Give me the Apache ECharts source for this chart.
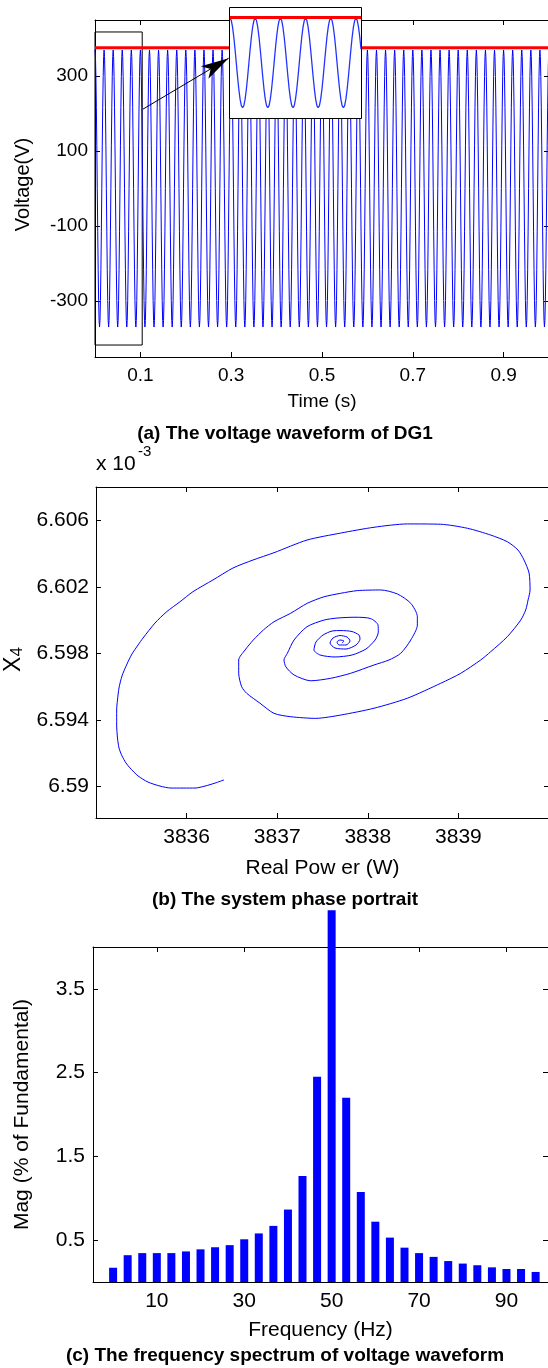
<!DOCTYPE html>
<html>
<head>
<meta charset="utf-8">
<title>DG1 voltage, phase portrait and spectrum</title>
<script src="https://cdn.jsdelivr.net/npm/echarts@6/dist/echarts.min.js"></script>
<style>
  html, body { margin: 0; padding: 0; background: #fff; }
  #chart { width: 548px; height: 1368px; }
</style>
</head>
<body>
<div id="chart"></div>
<script>
// ---------- (a) DG1 terminal voltage ----------
// one 20 ms period of samples (V), repeated over the 1 s record
const cyclePeriod = 0.02;
const cycleCount = 50;
const cycleVolts = [370, 352, 299, 217, 114, 0, -114, -217, -299, -352,
                    -370, -352, -299, -217, -114, 0, 114, 217, 299, 352];
const peakLevel = 376;                       // red reference level (V)
const timeTicks = [0.1, 0.3, 0.5, 0.7, 0.9];
const voltTicks = [-300, -100, 100, 300];
const zoomWindowT = [0, 0.104];              // framed window, s
const zoomWindowV = [-418, 418];             // framed window, V
const arrowFrom = [0.1057, 212];
const arrowTo = [0.2945, 348];

// ---------- (b) phase portrait: real power (W) vs x4 (x 10^-3) ----------
const powerW = [3836.413, 3836.314, 3836.203, 3836.093, 3835.828, 3835.706, 3835.574, 3835.464, 3835.375, 3835.331,
  3835.287, 3835.254, 3835.237, 3835.228, 3835.228, 3835.237, 3835.254, 3835.287, 3835.342, 3835.397,
  3835.464, 3835.519, 3835.651, 3835.780, 3835.927, 3836.071, 3836.291, 3836.512, 3836.733, 3836.965, 3837.329,
  3837.701, 3838.069, 3838.436, 3838.805, 3839.099, 3839.357, 3839.540, 3839.658, 3839.724, 3839.780,
  3839.791, 3839.769, 3839.743, 3839.688, 3839.540, 3839.357, 3839.246, 3839.026, 3838.805, 3838.436,
  3838.069, 3837.701, 3837.425, 3837.149, 3836.965, 3836.810, 3836.663, 3836.608, 3836.575, 3836.575,
  3836.645, 3836.736, 3836.847, 3836.965, 3837.149, 3837.332, 3837.517, 3837.701, 3837.884, 3838.143,
  3838.326, 3838.474, 3838.547, 3838.547, 3838.474, 3838.363, 3838.234, 3838.069, 3837.811, 3837.591,
  3837.370, 3837.186, 3837.097, 3837.075, 3837.112, 3837.186, 3837.329, 3837.517, 3837.660, 3837.859,
  3838.032, 3838.113, 3838.116, 3838.080, 3837.980, 3837.826, 3837.638, 3837.473, 3837.406, 3837.428,
  3837.506, 3837.605, 3837.704, 3837.826, 3837.903, 3837.914, 3837.870, 3837.760, 3837.638, 3837.583,
  3837.616, 3837.693, 3837.771, 3837.804, 3837.760, 3837.682, 3837.660, 3837.693, 3837.737, 3837.715];
const x4 = [6.59039, 6.59020, 6.59002, 6.58990, 6.58990, 6.59002, 6.59026, 6.59063, 6.59111, 6.59141,
  6.59183, 6.59231, 6.59291, 6.59369, 6.59459, 6.59519, 6.59592, 6.59664, 6.59736, 6.59796,
  6.59850, 6.59892, 6.59982, 6.60050, 6.60110, 6.60171, 6.60241, 6.60313, 6.60361, 6.60405, 6.60481,
  6.60523, 6.60558, 6.60578, 6.60576, 6.60552, 6.60511, 6.60471, 6.60421, 6.60361, 6.60283,
  6.60181, 6.60121, 6.60061, 6.60000, 6.59900, 6.59810, 6.59760, 6.59680, 6.59620, 6.59530,
  6.59470, 6.59429, 6.59409, 6.59419, 6.59439, 6.59500, 6.59560, 6.59599, 6.59680, 6.59760,
  6.59820, 6.59880, 6.59940, 6.59990, 6.60041, 6.60101, 6.60140, 6.60161, 6.60177, 6.60181,
  6.60157, 6.60101, 6.60020, 6.59970, 6.59880, 6.59800, 6.59760, 6.59730, 6.59680, 6.59650,
  6.59635, 6.59670, 6.59718, 6.59760, 6.59800, 6.59880, 6.59960, 6.60000, 6.60012, 6.60017,
  6.60009, 6.59970, 6.59928, 6.59880, 6.59826, 6.59790, 6.59778, 6.59790, 6.59820, 6.59868,
  6.59910, 6.59934, 6.59937, 6.59931, 6.59910, 6.59886, 6.59850, 6.59826, 6.59832, 6.59862,
  6.59892, 6.59907, 6.59898, 6.59874, 6.59850, 6.59850, 6.59868, 6.59880, 6.59874, 6.59862];
const powerTicks = [3836, 3837, 3838, 3839];
const x4Ticks = [6.59, 6.594, 6.598, 6.602, 6.606];

// ---------- (c) voltage spectrum ----------
const freqHz = [0, 3.33, 6.67, 10, 13.33, 16.67, 20, 23.33, 26.67, 30,
  33.33, 36.67, 40, 43.33, 46.67, 50, 53.33, 56.67, 60, 63.33,
  66.67, 70, 73.33, 76.67, 80, 83.33, 86.67, 90, 93.33, 96.67];
const magPct = [0.17, 0.32, 0.345, 0.345, 0.345, 0.365, 0.39, 0.415, 0.44, 0.51,
  0.58, 0.67, 0.865, 1.265, 2.45, 4.44, 2.2, 1.075, 0.72, 0.53,
  0.41, 0.345, 0.30, 0.25, 0.22, 0.20, 0.175, 0.155, 0.155, 0.12];
const freqTicks = [10, 30, 50, 70, 90];
const magTicks = [0.5, 1.5, 2.5, 3.5];

// ---------- build series tables ----------
const samplesPerCycle = cycleVolts.length;
const wave = [];
for (let c = 0; c < cycleCount; c++) {
  for (let i = 0; i < samplesPerCycle; i++) {
    const k = c * samplesPerCycle + i;
    wave.push([+(k * cyclePeriod / samplesPerCycle).toFixed(6), cycleVolts[i]]);
  }
}
wave.push([cycleCount * cyclePeriod, cycleVolts[0]]);
const insetWave = wave.filter(p => p[0] <= zoomWindowT[1] + 1e-9);
const portrait = powerW.map((p, i) => [p, x4[i]]);
const spectrum = freqHz.map((f, i) => [f, magPct[i]]);

// ---------- styling helpers ----------
const FONT = '"Liberation Sans", Arial, Helvetica, sans-serif';
const BLACK = '#000';
const BLUE = '#0000ff';
const RED = '#ff0000';
const plain = v => String(v);

function boxAxis(o) {
  return {
    type: 'value', gridIndex: o.grid, min: o.min, max: o.max,
    position: o.position,
    axisLine: { show: true, onZero: false, lineStyle: { color: BLACK, width: 1 } },
    axisTick: { show: true, inside: true, length: 5, lineStyle: { color: BLACK, width: 1 }, customValues: o.ticks },
    axisLabel: o.fs ? { show: true, customValues: o.ticks, formatter: plain, color: BLACK, fontFamily: FONT, fontSize: o.fs, margin: o.margin }
                    : { show: false },
    splitLine: { show: false },
    name: o.name || '', nameLocation: 'middle', nameGap: o.gap || 0, nameRotate: o.rotate,
    nameTextStyle: Object.assign({ color: BLACK, fontFamily: FONT, fontSize: o.nfs || o.fs || 12 }, o.nameStyle || {})
  };
}

const grids = [
  { left: 95, top: 20, width: 454, height: 337 },   // (a)
  { left: 96, top: 487, width: 453, height: 331 },  // (b)
  { left: 93, top: 947, width: 455, height: 335 },  // (c)
  { left: 230, top: 8, width: 131, height: 110 }    // (a) magnified inset
].map(g => Object.assign({ containLabel: false, outerBoundsMode: 'none', show: false }, g));

const xAxes = [
  boxAxis({ grid: 0, min: 0, max: 1, ticks: timeTicks, fs: 19, margin: 9, name: 'Time (s)', gap: 35, position: 'bottom' }),
  boxAxis({ grid: 0, min: 0, max: 1, ticks: timeTicks, position: 'top' }),
  boxAxis({ grid: 1, min: 3835, max: 3840, ticks: powerTicks, fs: 21, margin: 9, name: 'Real Pow er (W)', gap: 40, position: 'bottom' }),
  boxAxis({ grid: 1, min: 3835, max: 3840, ticks: powerTicks, position: 'top' }),
  boxAxis({ grid: 2, min: -4.6, max: 99.5, ticks: freqTicks, fs: 21, margin: 9, name: 'Frequency (Hz)', gap: 38, position: 'bottom' }),
  boxAxis({ grid: 2, min: -4.6, max: 99.5, ticks: freqTicks, position: 'top' }),
  { type: 'value', gridIndex: 3, min: 0, max: zoomWindowT[1], show: false }
];
const yAxes = [
  boxAxis({ grid: 0, min: -450, max: 450, ticks: voltTicks, fs: 19, nfs: 20, margin: 7, name: 'Voltage(V)', gap: 62, rotate: 90, position: 'left',
    nameStyle: { padding: [0, 0, 0, 8] } }),
  boxAxis({ grid: 0, min: -450, max: 450, ticks: voltTicks, position: 'right' }),
  boxAxis({ grid: 1, min: 6.5881, max: 6.608, ticks: x4Ticks, fs: 21, margin: 7, name: '{x|X}{s|4}', gap: 68, rotate: 90, position: 'left',
    nameStyle: { padding: [0, 14, 0, 0],
      rich: { x: { fontSize: 23, fontFamily: FONT, color: BLACK }, s: { fontSize: 17, fontFamily: FONT, color: BLACK, padding: [6, 0, 0, 0] } } } }),
  boxAxis({ grid: 1, min: 6.5881, max: 6.608, ticks: x4Ticks, position: 'right' }),
  boxAxis({ grid: 2, min: 0, max: 4, ticks: magTicks, fs: 21, margin: 8, name: 'Mag (% of Fundamental)', gap: 60, rotate: 90, position: 'left' }),
  boxAxis({ grid: 2, min: 0, max: 4, ticks: magTicks, position: 'right' }),
  { type: 'value', gridIndex: 3, min: -455, max: 455, show: false }
];

const captionFont = 'bold 19px ' + FONT;
function caption(text, y) {
  return { type: 'text', x: 285, y: y, silent: true,
    style: { text: text, font: captionFont, fill: BLACK, align: 'center', verticalAlign: 'middle',
             textAlign: 'center', textVerticalAlign: 'middle' } };
}

const option = {
  animation: false,
  backgroundColor: '#fff',
  textStyle: { fontFamily: FONT },
  grid: grids,
  xAxis: xAxes,
  yAxis: yAxes,
  graphic: [
    // frame and white backing of the magnified view
    { type: 'rect', z: 3, silent: true,
      shape: { x: 229.5, y: 7.5, width: 132, height: 111 },
      style: { fill: '#fff', stroke: BLACK, lineWidth: 1 } },
    caption('(a) The voltage waveform of DG1', 434),
    caption('(b) The system phase portrait', 900),
    caption('(c) The frequency spectrum of voltage waveform', 1356),
    { type: 'text', x: 96, y: 464, silent: true,
      style: { text: 'x 10', font: '21px ' + FONT, fill: BLACK, align: 'left', verticalAlign: 'middle',
               textAlign: 'left', textVerticalAlign: 'middle' } },
    { type: 'text', x: 138, y: 452, silent: true,
      style: { text: '-3', font: '15px ' + FONT, fill: BLACK, align: 'left', verticalAlign: 'middle',
               textAlign: 'left', textVerticalAlign: 'middle' } }
  ],
  series: [
    {
      name: 'voltage', type: 'line', xAxisIndex: 0, yAxisIndex: 0, z: 1,
      data: wave, showSymbol: false, symbol: 'none',
      lineStyle: { color: BLUE, width: 1 },
      markArea: {
        silent: true,
        itemStyle: { color: 'rgba(0,0,0,0)', borderColor: BLACK, borderWidth: 1 },
        data: [[{ coord: [zoomWindowT[0], zoomWindowV[0]] }, { coord: [zoomWindowT[1], zoomWindowV[1]] }]]
      }
    },
    {
      name: 'peak', type: 'line', xAxisIndex: 0, yAxisIndex: 0, z: 1,
      data: [[0, peakLevel], [1, peakLevel]], showSymbol: false, symbol: 'none',
      lineStyle: { color: RED, width: 3 }
    },
    {
      name: 'voltage (zoom)', type: 'line', xAxisIndex: 6, yAxisIndex: 6, z: 5,
      data: insetWave, showSymbol: false, symbol: 'none', clip: true,
      lineStyle: { color: '#2233ff', width: 1.3 }
    },
    {
      name: 'peak (zoom)', type: 'line', xAxisIndex: 6, yAxisIndex: 6, z: 5,
      data: [[0, peakLevel], [zoomWindowT[1], peakLevel]], showSymbol: false, symbol: 'none',
      lineStyle: { color: RED, width: 3 }
    },
    {
      name: 'pointer', type: 'line', xAxisIndex: 0, yAxisIndex: 0, z: 6, data: [],
      markLine: {
        silent: true, symbol: ['none', 'arrow'],
        label: { show: false },
        lineStyle: { color: BLACK, width: 1, type: 'solid' },
        data: [[{ coord: arrowFrom, symbol: 'none' }, { coord: arrowTo, symbol: 'arrow', symbolSize: [11, 28] }]]
      }
    },
    {
      name: 'portrait', type: 'line', xAxisIndex: 2, yAxisIndex: 2, z: 2,
      data: portrait, showSymbol: false, symbol: 'none', smooth: 0.25,
      lineStyle: { color: BLUE, width: 1 }
    },
    {
      name: 'spectrum', type: 'bar', xAxisIndex: 4, yAxisIndex: 4, z: 2,
      data: spectrum, barWidth: 8, clip: false,
      itemStyle: { color: BLUE }
    }
  ]
};

const chart = echarts.init(document.getElementById('chart'), null, { renderer: 'canvas' });
chart.setOption(option);
</script>
</body>
</html>
